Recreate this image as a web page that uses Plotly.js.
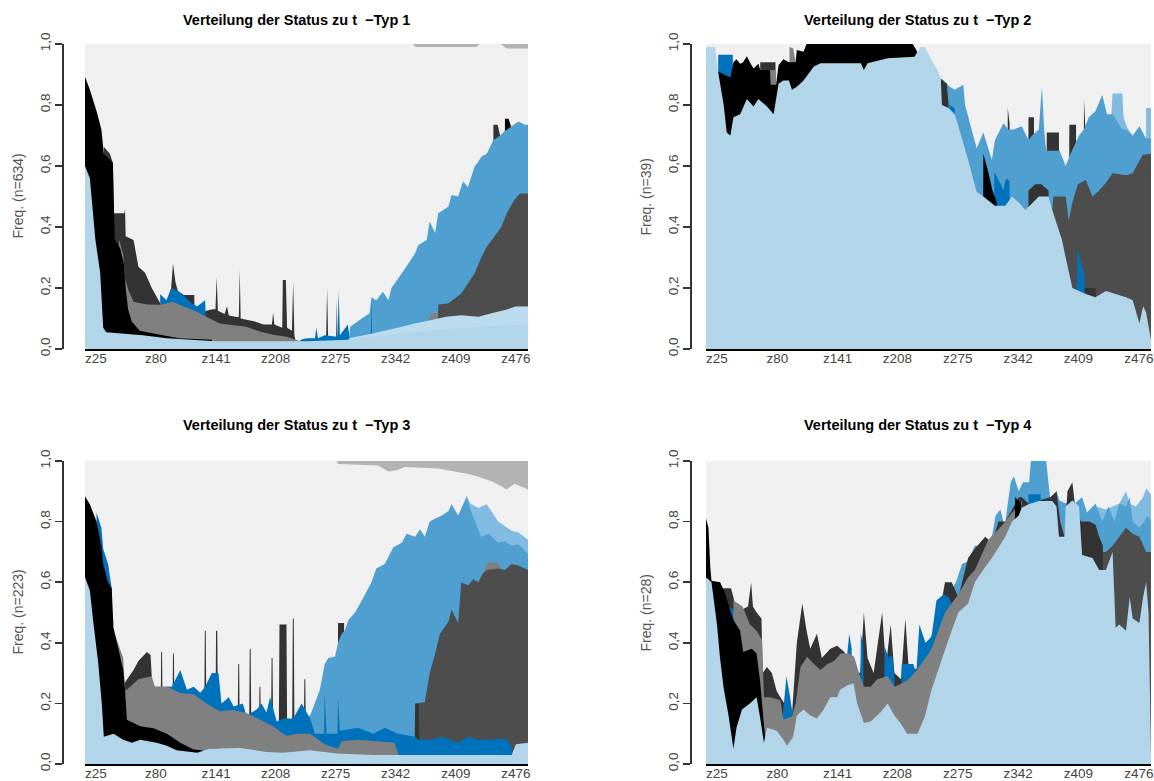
<!DOCTYPE html>
<html>
<head>
<meta charset="utf-8">
<script src="https://cdn.plot.ly/plotly-3.0.1.min.js"></script>
<style>html,body{margin:0;padding:0;background:#fff}#chart{width:1154px;height:781px}</style>
</head>
<body>
<div id="chart"></div>
<script>
// ---------- tick labels ----------
const TICK_POS = [2.3, 12.2, 22.1, 31.9, 41.8, 51.7, 61.6, 71.5];
const TICK_TEXT = ['z25', 'z80', 'z141', 'z208', 'z275', 'z342', 'z409', 'z476'];
const Y_TICKS = [0, 0.2, 0.4, 0.6, 0.8, 1];
const Y_TEXT = ['0,0', '0,2', '0,4', '0,6', '0,8', '1,0'];
const TITLES = ['Verteilung der Status zu t\u00a0 \u2212Typ 1', 'Verteilung der Status zu t\u00a0 \u2212Typ 2',
                'Verteilung der Status zu t\u00a0 \u2212Typ 3', 'Verteilung der Status zu t\u00a0 \u2212Typ 4'];
const N_TYPE = [634, 39, 223, 28];

// ---------- cumulative state shares [time index, upper edge of state] ----------
// Typ 1
const t1_lb = [[0.5,0.6],[1.3,0.56],[2.2,0.36],[3.0,0.25],[3.5,0.07],[4.0,0.055],[10,0.045],[14,0.035],[22,0.025],[37,0.025],[44,0.03],[48,0.04],[52,0.05],[57,0.06],[62,0.068],[67,0.075],[73.5,0.08]];
const t1_lb2 = [[43.9,0],[44,0.035],[47.7,0.05],[52,0.07],[54.8,0.084],[57.6,0.095],[60,0.106],[62.5,0.111],[65.3,0.106],[67.5,0.117],[69.7,0.128],[71.5,0.139],[73.5,0.139]];
const t1_black = [[0.5,0.893],[1.3,0.85],[2.4,0.78],[3.2,0.72],[3.6,0.64],[5.1,0.61],[5.4,0.36],[6.3,0.33],[6.9,0.28],[7.2,0.2],[7.6,0.13],[8.2,0.09],[9.5,0.06],[12,0.05],[16,0.035],[21.4,0.03],[21.5,0]];
const t1_gray = [[6.0,0],[6.1,0.36],[6.8,0.31],[7.1,0.232],[7.7,0.19],[8.5,0.155],[10.7,0.146],[13,0.145],[15,0.155],[16.7,0.139],[18.3,0.128],[20.5,0.106],[22.7,0.084],[25,0.078],[27.1,0.073],[29.3,0.057],[31.5,0.047],[33.7,0.04],[36,0.025],[36.1,0],[56.9,0],[57.0,0.09],[57.6,0.115],[58.6,0.12],[58.7,0]];
const t1_blue = [[12.8,0],[12.9,0.18],[13.9,0.16],[14.8,0.2],[15.8,0.19],[16.7,0.177],[18,0.15],[19,0.14],[20.3,0.16],[20.6,0],[35.8,0],[36,0.03],[37,0.035],[38.4,0.035],[38.6,0.07],[38.9,0.035],[40,0.045],[42.1,0.04],[42.3,0.19],[42.5,0.045],[43.8,0.08],[44.1,0.04],[44.2,0],[47.4,0],[47.6,0.05],[47.7,0.167],[47.8,0.05],[48.6,0.05],[48.7,0]];
const t1_dg1 = [[3.5,0],[3.6,0.663],[4.6,0.64],[5.1,0.61],[5.2,0.445],[7.0,0.445],[7.1,0.46],[7.2,0.37],[8.5,0.357],[9.3,0.27],[10.4,0.25],[11.5,0.2],[12.9,0.15],[13.5,0.13],[14.7,0.2],[15.0,0.28],[15.4,0.22],[15.8,0.19],[16.8,0.177],[18.5,0.177],[18.6,0.1],[20.5,0.125],[21.5,0.13],[22.0,0.13],[22.2,0.237],[22.4,0.125],[23.5,0.115],[23.9,0.14],[24.2,0.11],[25.5,0.105],[25.85,0.105],[26.0,0.26],[26.15,0.1],[28.5,0.09],[29.9,0.08],[31.3,0.08],[31.5,0.12],[31.7,0.08],[33.0,0.07],[33.1,0.226],[33.6,0.226],[33.8,0.07],[34.6,0.06],[34.8,0.22],[35.0,0.045],[35.5,0],[40.2,0],[40.4,0.2],[40.6,0],[41.85,0],[42.0,0.16],[42.1,0]];
const t1_dg2 = [[58.6,0],[58.7,0.145],[60.4,0.15],[62.5,0.182],[63.6,0.215],[64.7,0.248],[65.8,0.3],[66.7,0.335],[68,0.37],[69.1,0.4],[70,0.445],[71.3,0.49],[72.2,0.51],[73.5,0.51]];
const t1_mb = [[43.9,0],[44.2,0.073],[46.1,0.1],[47.4,0.117],[47.7,0.17],[48.5,0.16],[49.6,0.188],[50.5,0.16],[51.0,0.2],[52.7,0.248],[53.8,0.28],[54.9,0.314],[55.4,0.34],[56.8,0.357],[57.3,0.418],[58.2,0.38],[58.7,0.445],[60.4,0.467],[60.9,0.505],[62.0,0.5],[62.8,0.55],[63.6,0.53],[64.7,0.598],[65.3,0.614],[65.8,0.63],[66.7,0.64],[67.8,0.685],[68.9,0.7],[69.7,0.715],[70.8,0.73],[71.9,0.746],[73.0,0.735],[73.5,0.735]];
const t1_dg1hi = [[67.7,0],[67.8,0.735],[68.5,0.735],[68.9,0.7],[69.0,0]];
const t1_blackhi = [[69.6,0],[69.7,0.755],[70.3,0.755],[70.7,0.73],[70.8,0]];
const t1_lg = [[0.5,1],[54.5,1],[55,0.99],[65,0.99],[65.5,1],[69,1],[70,0.985],[73.5,0.985]];
const t1_g2 = [[0.5,1],[73.5,1]];

// Typ 2
const t2_lb = [[0.5,0.99],[2.0,0.99],[2.4,0.92],[3.4,0.8],[3.9,0.71],[4.5,0.70],[5.0,0.76],[6.1,0.77],[7.2,0.82],[8.3,0.795],[9.1,0.82],[10.5,0.795],[11.6,0.77],[12.4,0.87],[13.2,0.88],[14.1,0.88],[14.6,0.85],[15.4,0.86],[16.5,0.88],[18.2,0.926],[19.3,0.937],[25.9,0.937],[26.4,0.915],[27.0,0.937],[30.3,0.953],[34.7,0.958],[35.7,0.99],[36.4,0.99],[37.5,0.948],[38.6,0.909],[39.0,0.89],[39.2,0.8],[40.3,0.79],[41.3,0.77],[41.9,0.73],[43.5,0.62],[44.9,0.515],[46.0,0.5],[47.9,0.47],[49.6,0.47],[50.7,0.5],[51.8,0.48],[52.9,0.456],[55.1,0.5],[56.7,0.5],[57.3,0.456],[58.9,0.357],[59.5,0.3],[60.6,0.2],[62.8,0.18],[64.4,0.17],[66.1,0.19],[69.4,0.17],[70.5,0.16],[71.6,0.084],[72.2,0.14],[72.7,0.12],[73.5,0.03]];
const t2_black = [[2.4,0],[2.5,0.91],[4.5,0.89],[5.0,0.94],[5.5,0.95],[6.1,0.935],[6.6,0.94],[7.2,0.96],[7.7,0.94],[8.3,0.92],[9.1,0.935],[9.4,0.915],[11.0,0.915],[11.1,0.866],[12.0,0.866],[12.4,0.93],[13.2,0.95],[14.1,0.94],[15.2,0.94],[15.4,0.98],[16.5,0.975],[17.0,1.0],[34.4,1.0],[35.0,0.98],[35.4,0.96],[35.5,0],[45.9,0],[46.0,0.64],[46.8,0.58],[47.5,0.52],[48.2,0.48],[48.3,0]];
const t2_gray = [[10.9,0],[11.0,0.915],[12.0,0.915],[12.1,0],[14.1,0],[14.2,0.99],[14.8,0.985],[15.2,0.94],[15.3,0]];
const t2_blue = [[2.4,0],[2.5,0.965],[4.9,0.965],[5.0,0],[40.3,0],[40.4,0.8],[41.3,0.79],[41.4,0],[47.6,0],[47.8,0.58],[48.6,0.55],[49.3,0.52],[49.7,0.56],[50.3,0.55],[50.4,0],[61.3,0],[61.4,0.33],[62.6,0.24],[62.7,0]];
const t2_dg1 = [[9.3,0],[9.4,0.94],[11.9,0.94],[12.0,0],[38.9,0],[39.0,0.887],[40.0,0.87],[40.3,0.8],[40.4,0],[53.3,0],[53.4,0.52],[54.5,0.54],[55.5,0.54],[56.7,0.52],[56.8,0],[62.4,0],[62.5,0.2],[64.4,0.2],[64.5,0]];
const t2_dg2 = [[57.2,0],[57.3,0.456],[57.5,0.5],[59.5,0.5],[60.0,0.42],[60.6,0.48],[61.5,0.54],[62.8,0.554],[63.9,0.5],[65.0,0.52],[66.1,0.545],[67.2,0.576],[69.4,0.57],[70.5,0.576],[72.1,0.636],[73.5,0.64]];
const t2_mb = [[39.1,0],[39.2,0.885],[40.5,0.86],[41.3,0.85],[42.7,0.866],[43.0,0.8],[44.9,0.658],[46.0,0.71],[47.4,0.62],[47.9,0.685],[49.3,0.74],[50.1,0.72],[50.9,0.72],[52.3,0.73],[53.4,0.685],[54.0,0.7],[55.1,0.72],[55.6,0.86],[56.0,0.71],[56.3,0.65],[58.5,0.65],[59.5,0.6],[60.3,0.64],[61.7,0.7],[62.5,0.72],[63.3,0.76],[64.4,0.78],[65.5,0.833],[66.3,0.77],[67.2,0.77],[68.8,0.72],[69.4,0.72],[70.5,0.7],[71.6,0.73],[72.7,0.69],[73.5,0.69]];
const t2_lmb = [[66.9,0],[67.0,0.77],[67.2,0.838],[68.8,0.838],[69.0,0.76],[69.5,0.73],[70.4,0.7],[70.5,0],[72.6,0],[72.7,0.79],[73.5,0.79]];
const t2_dg1hi = [[49.9,0],[50.0,0.79],[50.3,0.74],[50.4,0],[53.3,0],[53.4,0.76],[54.3,0.76],[54.5,0],[56.3,0],[56.4,0.71],[58.4,0.71],[58.5,0],[60.0,0],[60.1,0.735],[61.2,0.735],[61.4,0],[62.4,0],[62.5,0.82],[62.8,0.7],[62.9,0]];
const t2_lg = [[0.5,1],[73.5,1]];

// Typ 3
const t3_lb = [[0.5,0.616],[1.3,0.573],[1.9,0.463],[2.7,0.33],[3.3,0.19],[3.6,0.09],[5.2,0.1],[6.8,0.08],[8.2,0.07],[9.6,0.08],[12.3,0.07],[14,0.06],[15.6,0.045],[19,0.037],[21,0.05],[26,0.053],[30.4,0.04],[33,0.037],[37.6,0.045],[42,0.035],[48,0.03],[53,0.03],[70.8,0.03],[71.5,0.065],[73.5,0.07]];
const t3_black = [[0.5,0.884],[1.3,0.857],[2.4,0.8],[3.2,0.72],[3.5,0.66],[4.3,0.6],[4.9,0.58],[5.2,0.45],[6.8,0.31],[7.1,0.245],[7.4,0.146],[9.6,0.125],[11.8,0.118],[14,0.1],[16.2,0.07],[18.4,0.048],[19.8,0.045],[20.3,0.035],[21.1,0.05],[22.5,0.05],[23.8,0.045],[24.2,0]];
const t3_gray = [[5.1,0],[5.2,0.44],[6.8,0.35],[7.1,0.245],[7.4,0.245],[9.3,0.28],[11.5,0.29],[12.0,0.256],[14,0.256],[16.2,0.234],[18.4,0.23],[20.5,0.2],[22.7,0.174],[24.9,0.178],[27.1,0.168],[29.3,0.147],[31.5,0.125],[33.7,0.092],[35.4,0.1],[37.6,0.1],[38.4,0.088],[40.0,0.065],[42.2,0.05],[42.8,0.075],[45.5,0.08],[48.5,0.075],[51.5,0.07],[52.1,0.035],[52.2,0]];
const t3_blue = [[2.3,0],[2.4,0.83],[3.2,0.78],[3.5,0.71],[4.3,0.66],[4.9,0.58],[5.0,0],[13.9,0],[14.0,0.256],[14.8,0.255],[16.2,0.31],[17.3,0.245],[18.4,0.255],[19.5,0.235],[20.3,0.255],[21.4,0.3],[22.5,0.3],[23.0,0.2],[24.2,0.22],[25.0,0.19],[26.5,0.2],[27.1,0.16],[28.8,0.18],[29.6,0.2],[30.4,0.17],[31.0,0.22],[32.1,0.14],[33.2,0.15],[34.8,0.15],[36.2,0.2],[37.6,0.15],[38.4,0.1],[39.9,0.1],[40.0,0.23],[40.3,0.1],[42.1,0.1],[42.2,0.22],[42.5,0.11],[45.5,0.12],[48.0,0.1],[49.9,0.12],[52.1,0.1],[54.9,0.09],[55.4,0.08],[57.5,0.08],[59.3,0.09],[62.0,0.07],[63.6,0.09],[65.3,0.08],[67.5,0.08],[69.7,0.085],[70.8,0.06],[70.9,0]];
const t3_dg1 = [[7.0,0],[7.1,0.27],[8.5,0.31],[9.3,0.34],[10.7,0.37],[11.3,0.36],[11.5,0.29],[11.6,0],[12.9,0],[13.05,0.37],[13.2,0.37],[13.35,0],[14.85,0],[15.0,0.365],[15.15,0.365],[15.3,0],[20.1,0],[20.25,0.44],[20.4,0.44],[20.55,0],[21.95,0],[22.1,0.44],[22.3,0.44],[22.45,0],[25.6,0],[25.75,0.33],[25.9,0.33],[26.05,0],[27.5,0],[27.65,0.38],[27.8,0.38],[27.95,0],[29.1,0],[29.25,0.255],[29.4,0.255],[29.55,0],[31.1,0],[31.25,0.35],[31.4,0.35],[31.55,0],[32.4,0],[32.55,0.46],[33.7,0.46],[33.85,0],[34.6,0],[34.75,0.48],[34.9,0.48],[35.05,0],[36.5,0],[36.65,0.28],[36.8,0.28],[36.95,0],[54.8,0],[54.9,0.2],[55.5,0.2],[55.6,0]];
const t3_dg2 = [[54.8,0],[54.9,0.09],[55.2,0.2],[56.5,0.205],[57.3,0.3],[58.2,0.365],[59.0,0.43],[60.4,0.47],[60.9,0.51],[62.0,0.465],[62.5,0.6],[63.6,0.59],[64.5,0.61],[65.3,0.6],[66.1,0.63],[66.7,0.64],[68.6,0.645],[69.7,0.64],[70.8,0.66],[71.9,0.655],[73.5,0.64]];
const t3_grayhi = [[66.3,0],[66.4,0.64],[66.7,0.665],[68.5,0.665],[69.1,0.645],[69.2,0]];
const t3_mb = [[36.4,0],[36.5,0.12],[37.8,0.17],[39.2,0.245],[40.0,0.33],[40.6,0.35],[41.7,0.355],[42.2,0.4],[42.8,0.43],[43.3,0.44],[43.9,0.475],[45.0,0.5],[46.4,0.55],[47.7,0.6],[48.5,0.645],[49.9,0.66],[51.3,0.715],[52.7,0.73],[53.5,0.76],[54.9,0.75],[55.7,0.775],[56.5,0.75],[57.3,0.8],[58.2,0.81],[59.3,0.82],[60.4,0.835],[60.9,0.857],[62.0,0.82],[63.4,0.884],[64.0,0.84],[65.8,0.75],[67.0,0.76],[68.6,0.73],[69.7,0.735],[70.8,0.72],[71.9,0.725],[73.5,0.693]];
const t3_lmb = [[63.3,0],[63.4,0.884],[64.0,0.86],[65.3,0.845],[66.7,0.857],[68.6,0.8],[70.8,0.77],[71.9,0.765],[73.5,0.74]];
const t3_dg1hi = [[42.1,0],[42.2,0.465],[43.2,0.465],[43.3,0]];
const t3_lg = [[0.5,1],[42.0,1],[42.2,0.99],[48.8,0.985],[50.5,0.965],[52,0.97],[53.2,0.98],[58.7,0.975],[61.4,0.965],[64.2,0.955],[65.8,0.945],[67.5,0.933],[69.1,0.917],[70.0,0.906],[71.3,0.925],[73.5,0.906]];
const t3_g2 = [[0.5,1],[73.5,1]];

// Typ 4
const t4_lb = [[0.5,0.616],[1.4,0.6],[2.3,0.46],[2.8,0.35],[3.4,0.25],[4.2,0.16],[5.0,0.05],[5.5,0.12],[6.4,0.18],[7.7,0.2],[8.8,0.22],[9.4,0.15],[10.0,0.07],[10.5,0.12],[12.1,0.11],[13.2,0.08],[13.8,0.06],[14.8,0.09],[15.4,0.16],[16.5,0.18],[17.6,0.16],[18.7,0.15],[19.8,0.18],[20.9,0.22],[22.0,0.22],[22.5,0.245],[23.7,0.26],[24.7,0.266],[25.3,0.2],[26.4,0.135],[27.5,0.14],[29.1,0.17],[30.3,0.2],[31.4,0.16],[32.4,0.135],[33.5,0.1],[35.2,0.1],[36.4,0.157],[37.5,0.245],[38.6,0.31],[39.7,0.376],[40.8,0.44],[41.9,0.5],[43.5,0.53],[44.6,0.6],[46.3,0.65],[47.4,0.68],[49.6,0.75],[50.7,0.8],[51.8,0.82],[52.3,0.846],[53.4,0.857],[55.1,0.868],[57.3,0.868],[58.0,0.85],[58.4,0.75],[59.3,0.75],[59.5,0.85],[60.6,0.87],[61.7,0.85],[62.2,0.69],[63.9,0.68],[65.0,0.64],[66.1,0.64],[67.2,0.7],[67.7,0.45],[68.3,0.46],[69.4,0.44],[70.0,0.55],[70.5,0.48],[71.6,0.465],[72.2,0.55],[72.7,0.6],[73.1,0.5],[73.5,0.03]];
const t4_black = [[0.5,0.81],[0.9,0.78],[1.2,0.65],[1.4,0.605],[2.8,0.6],[3.5,0.57],[5.0,0.475],[6.1,0.44],[6.6,0.37],[8.0,0.38],[8.8,0.365],[9.4,0.27],[10.0,0.13],[10.3,0.07],[10.4,0],[51.1,0],[51.2,0.88],[52.2,0.86],[52.3,0]];
const t4_gray = [[4.9,0],[5.0,0.54],[6.5,0.52],[7.7,0.46],[8.8,0.44],[9.7,0.41],[10.0,0.22],[11.0,0.22],[12.7,0.21],[13.2,0.147],[14.6,0.157],[15.2,0.2],[16.0,0.32],[17.1,0.354],[18.2,0.33],[19.3,0.31],[20.4,0.33],[21.5,0.34],[22.6,0.365],[24.0,0.365],[24.8,0.354],[25.6,0.3],[26.4,0.255],[27.5,0.255],[28.6,0.28],[30.3,0.29],[31.4,0.255],[32.5,0.265],[33.6,0.277],[34.7,0.3],[35.8,0.33],[37.4,0.376],[38.6,0.44],[39.7,0.5],[40.8,0.53],[41.9,0.56],[43.5,0.616],[44.6,0.64],[45.7,0.69],[46.8,0.74],[48.5,0.775],[49.6,0.8],[50.7,0.83],[51.8,0.85],[52.3,0.87],[52.4,0]];
const t4_blue = [[4.1,0],[4.2,0.52],[5.0,0.51],[5.3,0.48],[5.4,0],[13.0,0],[13.1,0.16],[13.7,0.29],[14.3,0.22],[14.6,0.18],[14.7,0],[23.6,0],[23.7,0.37],[24.0,0.43],[24.4,0.38],[24.5,0],[25.7,0],[25.9,0.43],[26.3,0.39],[26.4,0],[29.6,0],[29.8,0.39],[30.4,0.35],[31.0,0.36],[31.4,0.3],[31.5,0],[32.4,0],[32.6,0.33],[34.5,0.33],[35.0,0.3],[35.5,0.46],[36.5,0.4],[37.5,0.42],[38.3,0.54],[39.5,0.56],[40.3,0.55],[40.8,0.53],[40.9,0],[53.3,0],[53.4,0.89],[55.4,0.89],[55.5,0]];
const t4_dg1 = [[2.7,0],[2.8,0.6],[3.0,0.58],[4.6,0.58],[5.0,0.55],[5.5,0.5],[7.4,0.52],[7.9,0.6],[8.2,0.52],[8.8,0.5],[9.6,0.48],[9.8,0.3],[10.5,0.32],[11.3,0.3],[12.1,0.24],[12.7,0.22],[14.6,0.16],[15.4,0.4],[16.3,0.53],[17.0,0.44],[17.6,0.38],[18.7,0.43],[19.5,0.35],[20.9,0.38],[22.0,0.39],[23.2,0.37],[24.2,0.31],[25.8,0.3],[26.4,0.5],[27.0,0.35],[28.0,0.3],[29.4,0.5],[30.0,0.32],[30.8,0.46],[31.4,0.3],[32.5,0.28],[33.2,0.48],[33.8,0.3],[35.5,0.32],[36.4,0.36],[37.5,0.42],[38.6,0.47],[39.7,0.6],[40.8,0.6],[41.9,0.55],[43.5,0.68],[44.6,0.71],[46.3,0.75],[47.4,0.73],[48.5,0.8],[49.6,0.8],[50.7,0.84],[51.8,0.88],[52.3,0.88],[53.4,0.86],[55.1,0.87],[57.0,0.88],[58.0,0.9],[58.6,0.8],[59.3,0.75],[59.8,0.9],[60.6,0.93],[61.0,0.86],[62.0,0.8],[63.4,0.8],[64.4,0.79],[65.0,0.75],[65.6,0.72],[65.7,0]];
const t4_dg2 = [[62.1,0],[62.2,0.69],[65.0,0.7],[66.1,0.7],[67.2,0.72],[68.3,0.75],[69.4,0.78],[70.5,0.76],[71.6,0.75],[72.7,0.7],[73.5,0.7]];
const t4_mb = [[36.3,0],[36.4,0.3],[37.0,0.4],[38.6,0.48],[40.0,0.55],[41.5,0.6],[42.5,0.66],[43.5,0.67],[44.6,0.72],[45.5,0.72],[46.5,0.7],[47.5,0.76],[48.0,0.82],[48.8,0.84],[49.5,0.78],[50.0,0.86],[50.5,0.93],[51.0,0.95],[51.8,0.9],[52.5,0.93],[53.5,0.93],[53.8,1.0],[56.3,1.0],[57.0,0.87],[58.0,0.9],[58.5,0.87],[59.5,0.86],[60.6,0.87],[61.0,0.86],[62.2,0.88],[63.0,0.83],[64.4,0.86],[65.5,0.8],[66.5,0.85],[67.5,0.8],[68.3,0.86],[69.4,0.85],[70.0,0.88],[70.5,0.8],[71.6,0.78],[72.4,0.8],[73.0,0.82],[73.5,0.8]];
const t4_lmb = [[63.8,0],[63.9,0.8],[64.5,0.85],[66.1,0.84],[67.2,0.85],[68.3,0.86],[69.4,0.9],[70.0,0.86],[71.0,0.85],[72.2,0.88],[72.7,0.91],[73.5,0.89]];
const t4_lg = [[0.5,1],[73.5,1]];

// ---------- styling ----------
const COL = {
  lb: '#b3d5ea', lb2: '#bddbee', black: '#000000', gray: '#808080', blue: '#0072bb',
  dg1: '#333333', dg2: '#4d4d4d', mb: '#4f9fd0', lmb: '#82bbe2', lg: '#f0f0f0', g2: '#b3b3b3'
};
// drawing order: top states first, lower states painted over them
const PANELS = [
  [['g2',t1_g2],['lg',t1_lg],['dg1',t1_dg1hi],['black',t1_blackhi],['mb',t1_mb],['dg2',t1_dg2],['dg1',t1_dg1],['blue',t1_blue],['gray',t1_gray],['black',t1_black],['lb2',t1_lb2],['lb',t1_lb]],
  [['lg',t2_lg],['lmb',t2_lmb],['dg1',t2_dg1hi],['mb',t2_mb],['dg2',t2_dg2],['dg1',t2_dg1],['blue',t2_blue],['gray',t2_gray],['black',t2_black],['lb',t2_lb]],
  [['g2',t3_g2],['lg',t3_lg],['lmb',t3_lmb],['dg1',t3_dg1hi],['mb',t3_mb],['gray',t3_grayhi],['dg2',t3_dg2],['dg1',t3_dg1],['blue',t3_blue],['gray',t3_gray],['black',t3_black],['lb',t3_lb]],
  [['lg',t4_lg],['lmb',t4_lmb],['mb',t4_mb],['dg2',t4_dg2],['dg1',t4_dg1],['blue',t4_blue],['gray',t4_gray],['black',t4_black],['lb',t4_lb]]
];

const W = 1154, H = 781;
const GEOM = [ // plot box in pixels
  {x0: 85, x1: 528, yt: 44, yb: 349, ax: 62, tx: 296, ty: 20, yl: 17},
  {x0: 706, x1: 1151, yt: 44, yb: 349, ax: 690, tx: 918, ty: 20, yl: 645},
  {x0: 85, x1: 528, yt: 461, yb: 764, ax: 62, tx: 296, ty: 425, yl: 17},
  {x0: 706, x1: 1151, yt: 461, yb: 764, ax: 690, tx: 918, ty: 425, yl: 645}
];
const FONT = 'Liberation Sans, Arial, Helvetica, sans-serif';

const traces = [];
const layout = {
  width: W, height: H, margin: {l: 0, r: 0, t: 0, b: 0},
  paper_bgcolor: '#ffffff', plot_bgcolor: 'rgba(0,0,0,0)',
  showlegend: false, font: {family: FONT, color: '#444'},
  annotations: []
};

PANELS.forEach((layers, k) => {
  const n = k + 1, sx = n === 1 ? '' : String(n);
  const g = GEOM[k];
  layers.forEach(([state, pts]) => {
    traces.push({
      type: 'scatter', mode: 'none', fill: 'tozeroy', fillcolor: COL[state],
      x: pts.map(p => p[0]), y: pts.map(p => p[1]),
      xaxis: 'x' + sx, yaxis: 'y' + sx, hoverinfo: 'skip', showlegend: false
    });
  });
  layout['xaxis' + sx] = {
    domain: [g.x0 / W, g.x1 / W], range: [0.5, 73.5], anchor: 'y' + sx,
    tickmode: 'array', tickvals: TICK_POS, ticktext: TICK_TEXT, ticks: '', ticklabelstandoff: -4,
    showline: true, linecolor: '#000', linewidth: 2, showgrid: false, zeroline: false,
    tickfont: {size: 13.5, color: '#444', family: FONT}, fixedrange: true
  };
  layout['yaxis' + sx] = {
    domain: [1 - g.yb / H, 1 - g.yt / H], range: [0, 1], anchor: 'free', position: g.ax / W,
    tickmode: 'array', tickvals: Y_TICKS, ticktext: Y_TEXT, ticks: 'outside', ticklen: 7,
    tickwidth: 1.5, tickcolor: '#333', tickangle: -90,
    showline: true, linecolor: '#333', linewidth: 1.5, showgrid: false, zeroline: false,
    tickfont: {size: 13.5, color: '#444', family: FONT}, fixedrange: true
  };
  layout.annotations.push({
    xref: 'paper', yref: 'paper', x: g.tx / W, y: 1 - g.ty / H, xanchor: 'center', yanchor: 'middle',
    showarrow: false, text: '<b>' + TITLES[k] + '</b>', font: {size: 14.5, color: '#000', family: FONT}
  });
  layout.annotations.push({
    xref: 'paper', yref: 'paper', x: g.yl / W, y: 1 - (g.yt + g.yb) / 2 / H, xanchor: 'center', yanchor: 'middle',
    showarrow: false, textangle: -90, text: 'Freq. (n=' + N_TYPE[k] + ')', font: {size: 14, color: '#555', family: FONT}
  });
});

Plotly.newPlot('chart', traces, layout, {displayModeBar: false, staticPlot: true});
</script>
</body>
</html>
